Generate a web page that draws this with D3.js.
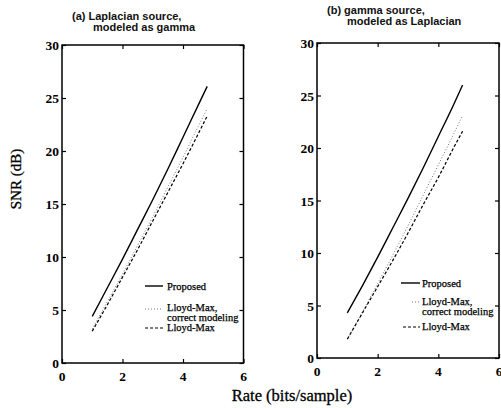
<!DOCTYPE html>
<html><head><meta charset="utf-8">
<script src="https://cdn.jsdelivr.net/npm/d3@7"></script>
<style>body{margin:0;background:#fff}svg{display:block}</style>
</head><body>
<svg id="c" width="501" height="408"></svg>
<script>
// Data
const rates = [1, 1.5, 2, 2.5, 3, 3.5, 4, 4.5, 4.8];
const a_proposed = [4.4, 7.1, 9.8, 12.6, 15.4, 18.3, 21.3, 24.3, 26.1];
const a_lmCorrect = [3.2, 5.8, 8.4, 11.1, 13.8, 16.6, 19.4, 22.3, 24.0];
const a_lloydMax = [3.0, 5.5, 8.1, 10.7, 13.4, 16.1, 18.8, 21.6, 23.3];
const b_proposed = [4.3, 6.9, 9.6, 12.4, 15.2, 18.1, 21.1, 24.1, 26.0];
const b_lmCorrect = [1.8, 4.4, 7.1, 9.8, 12.6, 15.5, 18.4, 21.3, 23.1];
const b_lloydMax = [1.8, 4.3, 6.8, 9.3, 11.9, 14.6, 17.2, 20.0, 21.6];
const xTicks = [0, 2, 4, 6];
const yTicks = [0, 5, 10, 15, 20, 25, 30];
const legendLabels = [["Proposed"], ["Lloyd-Max,", "correct modeling"], ["Lloyd-Max"]];

const svg = d3.select("#c");
const serif = "'Liberation Serif','Times New Roman',serif";
const sans = "'Liberation Sans',Arial,sans-serif";

const styles = [
  {dash: null, color: "#000", width: 1.4},
  {dash: "1,2", color: "#777", width: 1},
  {dash: "3,2", color: "#000", width: 1.2}
];

function panel(cfg) {
  const x = d3.scaleLinear().domain([0, 6]).range([cfg.x0, cfg.x1]);
  const y = d3.scaleLinear().domain([0, 30]).range([cfg.y0, cfg.y1]);
  const g = svg.append("g");
  g.append("rect").attr("x", cfg.x0).attr("y", cfg.y1)
    .attr("width", cfg.x1 - cfg.x0).attr("height", cfg.y0 - cfg.y1)
    .attr("fill", "none").attr("stroke", "#000").attr("stroke-width", 1.5);
  const ax = [
    [d3.axisBottom(x).tickValues(xTicks).tickSize(-4).tickFormat(""), `translate(0,${cfg.y0})`],
    [d3.axisTop(x).tickValues(xTicks).tickSize(-4).tickFormat(""), `translate(0,${cfg.y1})`],
    [d3.axisLeft(y).tickValues(yTicks).tickSize(-4).tickFormat(""), `translate(${cfg.x0},0)`],
    [d3.axisRight(y).tickValues(yTicks).tickSize(-4).tickFormat(""), `translate(${cfg.x1},0)`]
  ];
  ax.forEach(([a, t]) => {
    const ag = g.append("g").attr("transform", t).call(a);
    ag.select(".domain").remove();
    ag.selectAll("line").attr("stroke", "#000").attr("stroke-width", 1.2);
  });
  g.selectAll(".xl").data(xTicks).enter().append("text")
    .attr("x", d => x(d)).attr("y", cfg.y0 + 18).attr("text-anchor", "middle")
    .attr("font-family", serif).attr("font-size", 13.5).attr("font-weight", "bold")
    .text(d => d);
  g.selectAll(".yl").data(yTicks).enter().append("text")
    .attr("x", cfg.x0 - 3).attr("y", d => y(d) + 5).attr("text-anchor", "end")
    .attr("font-family", serif).attr("font-size", 13.5).attr("font-weight", "bold")
    .text(d => d);
  const line = d3.line().x((d, i) => x(rates[i])).y(d => y(d)).curve(d3.curveMonotoneX);
  cfg.series.forEach((s, k) => {
    g.append("path").datum(s).attr("d", line).attr("fill", "none")
      .attr("stroke", styles[k].color).attr("stroke-width", styles[k].width)
      .attr("stroke-dasharray", styles[k].dash);
  });
  cfg.title.forEach((t, i) => {
    g.append("text").attr("x", cfg.tx[i]).attr("y", cfg.ty[i])
      .attr("font-family", sans).attr("font-size", 11).attr("font-weight", "bold")
      .attr("fill", "#111").text(t);
  });
  const L = cfg.legend;
  legendLabels.forEach((labs, k) => {
    g.append("line").attr("x1", L.lx0[k]).attr("x2", L.lx1)
      .attr("y1", L.ly[k]).attr("y2", L.ly[k])
      .attr("stroke", styles[k].color).attr("stroke-width", styles[k].width)
      .attr("stroke-dasharray", styles[k].dash);
    labs.forEach((t, j) => {
      g.append("text").attr("x", L.tx).attr("y", L.ty[k] + j * 9.5)
        .attr("font-family", serif).attr("font-size", 10.5)
        .attr("fill", "#000").attr("stroke", "#000").attr("stroke-width", 0.25)
        .text(t);
    });
  });
}

panel({
  x0: 62, x1: 243.5, y0: 363, y1: 45,
  series: [a_proposed, a_lmCorrect, a_lloydMax],
  title: ["(a) Laplacian source,", "modeled as gamma"],
  tx: [72, 93], ty: [20, 31],
  legend: {lx0: [145, 145, 145], lx1: 163, ly: [286, 309, 328], tx: 167, ty: [290, 311, 331]}
});
panel({
  x0: 317, x1: 499, y0: 358, y1: 43,
  series: [b_proposed, b_lmCorrect, b_lloydMax],
  title: ["(b) gamma source,", "modeled as Laplacian"],
  tx: [327, 347], ty: [14, 25],
  legend: {lx0: [401, 412, 403], lx1: 420, ly: [283, 302, 327], tx: 422, ty: [287, 305, 330]}
});

svg.append("text").attr("transform", "translate(21,179) rotate(-90)")
  .attr("text-anchor", "middle").attr("font-family", serif).attr("font-size", 15)
  .attr("stroke", "#000").attr("stroke-width", 0.3).text("SNR (dB)");
svg.append("text").attr("x", 292).attr("y", 401).attr("text-anchor", "middle")
  .attr("font-family", serif).attr("font-size", 16.5)
  .attr("stroke", "#000").attr("stroke-width", 0.3).text("Rate (bits/sample)");
</script>
</body></html>
